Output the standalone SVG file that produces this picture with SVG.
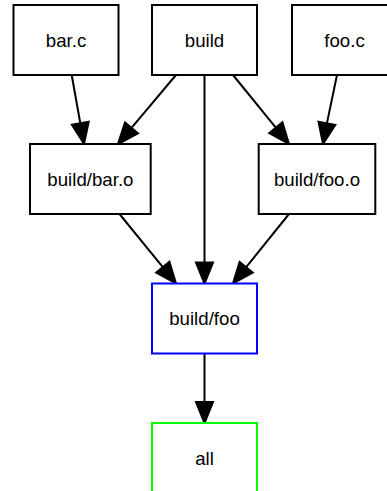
<svg xmlns="http://www.w3.org/2000/svg" width="387" height="491" viewBox="0 0 387 491">
<style>
.node rect{fill:#fff;stroke:#000;stroke-width:2}
.node text{font-family:"Liberation Sans",Arial,sans-serif;font-size:18.67px;text-anchor:middle;fill:#000}
.edges line{stroke:#000;stroke-width:2}
.edges polygon{fill:#000;stroke:#000;stroke-width:2}
</style>
<rect width="387" height="491" fill="#fff"/>
<g class="edges">
<line x1="71.7" y1="75" x2="80.3" y2="123.3"/><polygon points="84,144 88.7,121.8 71.9,124.8"/>
<line x1="176" y1="75" x2="131.5" y2="127.9"/><polygon points="118,144 138,133.4 125,122.4"/>
<line x1="204.5" y1="75" x2="204.5" y2="262.5"/><polygon points="204.5,283.5 213,262.5 196,262.5"/>
<line x1="233" y1="75" x2="275.8" y2="127.7"/><polygon points="289,144 282.4,122.3 269.2,133.1"/>
<line x1="337" y1="75" x2="326.9" y2="123.4"/><polygon points="323,144 335.3,125 318.5,121.8"/>
<line x1="119.5" y1="214" x2="162.8" y2="267.2"/><polygon points="176,283.5 169.4,261.8 156.2,272.6"/>
<line x1="289" y1="214" x2="246.2" y2="267.2"/><polygon points="233,283.5 252.8,272.5 239.6,261.9"/>
<line x1="204.5" y1="353.5" x2="204.5" y2="402"/><polygon points="204.5,423 213,402 196,402"/>
</g>
<g id="bar_c" class="node"><rect x="13.5" y="5" width="105" height="70"/><text x="66" y="46.5">bar.c</text></g>
<g id="build" class="node"><rect x="152" y="5" width="105" height="70"/><text x="204.5" y="46.5">build</text></g>
<g id="foo_c" class="node"><rect x="292" y="5" width="105" height="70"/><text x="344.5" y="46.5">foo.c</text></g>
<g id="build_bar_o" class="node"><rect x="30" y="144" width="120.7" height="70"/><text x="90.4" y="185.5">build/bar.o</text></g>
<g id="build_foo_o" class="node"><rect x="258.7" y="144" width="116.6" height="70"/><text x="317" y="185.5">build/foo.o</text></g>
<g id="build_foo" class="node"><rect x="152" y="283.5" width="105" height="70" style="stroke:#0000ff"/><text x="204.5" y="325">build/foo</text></g>
<g id="all" class="node"><rect x="152" y="423" width="105" height="70" style="stroke:#00ff00"/><text x="204.5" y="465">all</text></g>
</svg>
